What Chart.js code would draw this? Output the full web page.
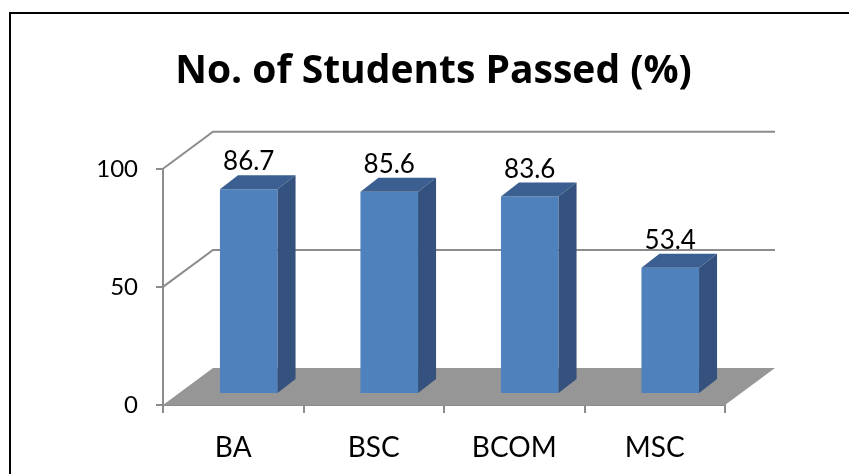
<!DOCTYPE html>
<html>
<head>
<meta charset="utf-8">
<script src="https://cdn.jsdelivr.net/npm/chart.js@4"></script>
<style>
  html, body { margin: 0; padding: 0; background: #fff; overflow: hidden; }
  #wrap { position: relative; width: 849px; height: 474px; }
  #frame { position: absolute; left: 9px; top: 12px; width: 900px; height: 500px; border: 2px solid #000; box-sizing: border-box; }
  canvas { position: absolute; left: 0; top: 0; }
</style>
</head>
<body>
<div id="wrap">
  <div id="frame"></div>
  <canvas id="grafica" width="849" height="474"></canvas>
</div>
<script>
  // Datos de la gráfica
  const categorias = ["BA", "BSC", "BCOM", "MSC"];
  const aprobados = [86.7, 85.6, 83.6, 53.4];
  const ticksY = [0, 50, 100];

  const fuente = "Lato, 'Open Sans', sans-serif";

  // profundidad de la pared de fondo y de las barras
  const fondo = { dx: 50, dy: -37 };
  const frente = { dx: 15.5, dy: -11 };
  const caja = { dx: 18, dy: -14 };

  const efecto3d = {
    id: "efecto3d",
    beforeDatasetsDraw(chart) {
      const { ctx, chartArea: a, scales: { y } } = chart;
      const y0 = y.getPixelForValue(0);
      ctx.save();
      // piso gris
      ctx.fillStyle = "#969696";
      ctx.beginPath();
      ctx.moveTo(a.left, y0);
      ctx.lineTo(a.left + fondo.dx, y0 + fondo.dy);
      ctx.lineTo(a.right + fondo.dx, y0 + fondo.dy);
      ctx.lineTo(a.right, y0);
      ctx.closePath();
      ctx.fill();
      // líneas de la pared de fondo
      ctx.strokeStyle = "#8c8c8c";
      ctx.lineWidth = 2;
      ticksY.filter(v => v > 0).forEach(v => {
        const py = y.getPixelForValue(v);
        ctx.beginPath();
        ctx.moveTo(a.left, py);
        ctx.lineTo(a.left + fondo.dx, py + fondo.dy);
        ctx.lineTo(a.right + fondo.dx, py + fondo.dy);
        ctx.stroke();
      });
      ctx.restore();
    },
    beforeDatasetDraw(chart) {
      chart.ctx.save();
      chart.ctx.translate(frente.dx, frente.dy);
    },
    afterDatasetDraw(chart, args) {
      const ctx = chart.ctx;
      ctx.restore();
      const meta = chart.getDatasetMeta(args.index);
      ctx.save();
      meta.data.forEach((bar, i) => {
        const l = bar.x - bar.width / 2 + frente.dx;
        const r = bar.x + bar.width / 2 + frente.dx;
        const t = bar.y + frente.dy;
        const b = bar.base + frente.dy;
        // cara superior
        ctx.fillStyle = "#3b5f90";
        ctx.beginPath();
        ctx.moveTo(l, t);
        ctx.lineTo(r, t);
        ctx.lineTo(r + caja.dx, t + caja.dy);
        ctx.lineTo(l + caja.dx, t + caja.dy);
        ctx.closePath();
        ctx.fill();
        // cara lateral
        ctx.fillStyle = "#34527d";
        ctx.beginPath();
        ctx.moveTo(r, t);
        ctx.lineTo(r + caja.dx, t + caja.dy);
        ctx.lineTo(r + caja.dx, b + caja.dy);
        ctx.lineTo(r, b);
        ctx.closePath();
        ctx.fill();
        // etiqueta del valor
        ctx.fillStyle = "#000";
        ctx.font = "26px " + fuente;
        ctx.textAlign = "center";
        ctx.textBaseline = "alphabetic";
        ctx.fillText(String(aprobados[i]), (l + r) / 2, t + caja.dy - 5);
      });
      ctx.restore();
    }
  };

  const ctx = document.getElementById("grafica").getContext("2d");
  new Chart(ctx, {
    type: "bar",
    data: {
      labels: categorias,
      datasets: [{
        label: "No. of Students Passed (%)",
        data: aprobados,
        backgroundColor: "#4f81bd",
        borderWidth: 0,
        categoryPercentage: 1,
        barPercentage: 0.41,
      }],
    },
    options: {
      responsive: false,
      animation: false,
      layout: { padding: { left: 18, right: 0, top: 0, bottom: 0 } },
      plugins: {
        legend: { display: false },
        tooltip: { enabled: false },
        title: {
          display: true,
          text: "No. of Students Passed (%)",
          color: "#000",
          font: { family: "'Open Sans', Lato, sans-serif", size: 39, weight: "bold", lineHeight: 1.2 },
          padding: { top: 48, bottom: 74 },
        },
      },
      scales: {
        x: {
          afterFit: s => { s.height = 69; },
          border: { display: true, color: "#8c8c8c", width: 2 },
          grid: { offset: true, drawOnChartArea: false, drawTicks: true, tickLength: 8, color: "#8c8c8c", lineWidth: 2 },
          ticks: { color: "#000", font: { family: fuente, size: 28 }, padding: 18 },
        },
        y: {
          min: 0,
          max: 100,
          afterFit: s => { s.width = 145; },
          afterBuildTicks: s => { s.ticks = ticksY.map(v => ({ value: v })); },
          border: { display: true, color: "#8c8c8c", width: 2 },
          grid: { drawOnChartArea: false, drawTicks: true, tickLength: 7, color: "#8c8c8c", lineWidth: 2 },
          ticks: { color: "#000", font: { family: fuente, size: 24 }, padding: 18 },
        },
        // margen derecho vacío para centrar el título como en el original
        margen: {
          axis: "y",
          position: "right",
          display: true,
          afterFit: s => { s.width = 124; },
          grid: { display: false, drawTicks: false },
          border: { display: false },
          ticks: { display: false },
        },
      },
    },
    plugins: [efecto3d],
  });
</script>
</body>
</html>
